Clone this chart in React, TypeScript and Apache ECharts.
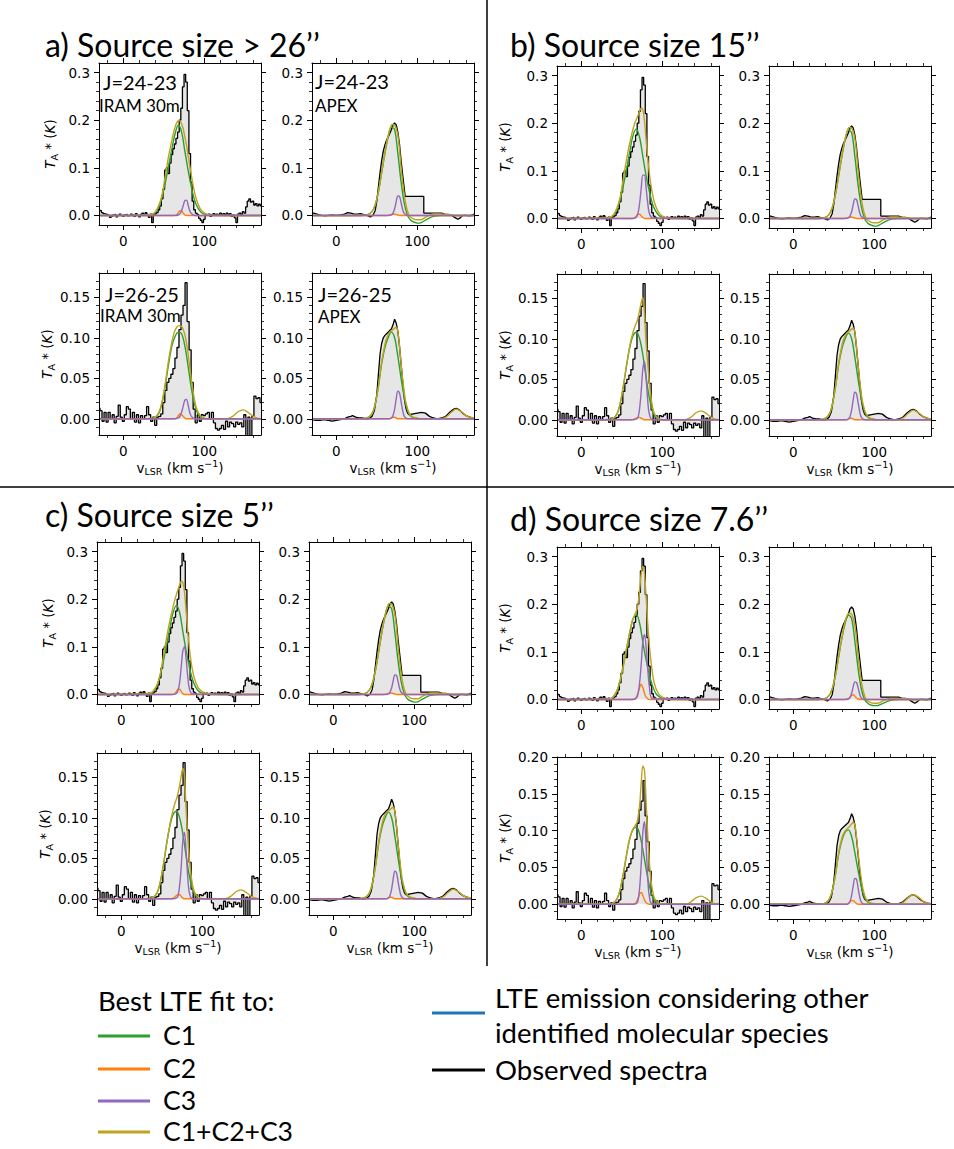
import React, { useEffect, useRef } from 'react';
import * as echarts from 'echarts';

// ---------- axes ----------
const V_MIN = -30;
const V_MAX = 170;
const xMajor = [0, 100];
const xMinor = [-20, 20, 40, 60, 80, 120, 140, 160];

// ---------- model velocity grids (km/s) ----------
const vC1 = [-30, 30, 38, 44, 48, 52, 56, 60, 64, 68, 72, 76, 80, 84, 88, 92, 96, 100, 103, 106, 112, 120, 130, 170];
const vC2 = [-30, 62, 66, 68, 70, 72, 74, 76, 78, 80, 84, 170];
const vC3 = [-30, 64, 68, 70, 72, 74, 76, 78, 80, 82, 84, 88, 170];
const vTot = [-30, 30, 38, 44, 48, 52, 56, 60, 63, 66, 69, 72, 74, 76, 78, 80, 83, 86, 90, 95, 100, 103, 106, 112, 120, 128, 135, 142, 148, 154, 162, 170];

// ---------- observed spectra ----------
// IRAM 30m J=24-23, channels of 2 km/s starting at -30 km/s
const obsIram24 = [0.012, 0.010, 0.006, 0.004, 0.003, 0.002, 0.000, -0.004, -0.002, 0.001,
  0.002, -0.003, 0.000, 0.003, 0.000, -0.002, 0.001, 0.002, -0.001, 0.000,
  0.003, 0.001, -0.002, 0.004, 0.000, -0.003, 0.002, 0.005, 0.001, 0.006,
  0.002, -0.004, 0.003, -0.015, 0.001, 0.004, 0.006, 0.012, 0.020, 0.035,
  0.055, 0.095, 0.100, 0.088, 0.110, 0.128, 0.140, 0.150, 0.162, 0.175,
  0.200, 0.225, 0.270, 0.296, 0.280, 0.220, 0.130, 0.070, 0.030, 0.012,
  0.005, 0.002, -0.006, -0.010, -0.015, -0.008, 0.002, 0.000, 0.003, -0.002,
  0.002, 0.004, 0.001, 0.003, 0.000, 0.005, 0.002, 0.004, 0.001, 0.005,
  0.002, 0.004, -0.002, 0.001, -0.005, -0.015, 0.003, 0.005, 0.002, 0.008,
  0.005, 0.018, 0.030, 0.035, 0.028, 0.030, 0.022, 0.025, 0.020, 0.024, 0.020];
const iram24Start = -30;
const iram24Step = 2;

// IRAM 30m J=26-25, channels of 2.5 km/s starting at -30 km/s
const obsIram26 = [0.013, 0.010, -0.003, 0.008, -0.004, 0.008, 0.000, 0.005, -0.005, 0.003,
  0.017, 0.002, -0.003, 0.005, 0.015, 0.012, 0.000, 0.008, -0.004, 0.005,
  -0.005, 0.004, 0.000, 0.004, 0.015, 0.005, -0.003, 0.002, -0.008, 0.002,
  0.003, 0.006, 0.020, 0.035, 0.045, 0.050, 0.055, 0.062, 0.075, 0.088,
  0.110, 0.128, 0.140, 0.168, 0.120, 0.085, 0.045, 0.012, -0.005, 0.005,
  -0.003, 0.005, 0.004, 0.006, 0.008, 0.000, 0.008, -0.005, -0.012, -0.014,
  -0.012, -0.008, -0.013, -0.003, -0.010, -0.004, -0.006, -0.010, -0.004, -0.007,
  -0.005, -0.010, 0.005, -0.025, 0.002, -0.025, 0.003, 0.028, 0.025, 0.026, 0.020];
const iram26Start = -30;
const iram26Step = 2.5;

// APEX J=24-23
const apex24V = [-30, -26, -22, -18, -14, -10, -5, 0, 5, 10, 14, 18, 22, 26, 30, 34, 38, 42, 45, 48, 50, 52, 54, 56, 58, 60, 62, 64, 66, 68, 70, 72, 74, 76, 78, 80, 82, 84, 85, 108, 108, 130, 134, 138, 142, 146, 150, 153, 156, 160, 165, 170];
const apex24T = [0.006, 0.004, 0.002, 0.000, -0.001, 0.000, 0.001, 0.000, 0.001, 0.003, 0.006, 0.005, 0.003, 0.003, 0.004, 0.002, 0.000, -0.003, 0.000, 0.010, 0.030, 0.060, 0.090, 0.115, 0.135, 0.148, 0.158, 0.165, 0.172, 0.180, 0.190, 0.194, 0.190, 0.175, 0.150, 0.115, 0.085, 0.055, 0.040, 0.040, 0.005, 0.005, 0.003, 0.002, 0.001, -0.004, -0.008, -0.005, 0.000, 0.000, -0.001, 0.003];

// APEX J=26-25
const apex26V = [-30, -25, -20, -15, -10, -5, 0, 5, 10, 14, 18, 20, 24, 28, 32, 36, 40, 44, 47, 50, 52, 54, 56, 58, 60, 63, 66, 68, 70, 72, 74, 76, 78, 80, 82, 84, 86, 88, 90, 95, 100, 105, 110, 115, 120, 125, 130, 135, 140, 145, 148, 152, 156, 160, 165, 170];
const apex26T = [-0.001, -0.002, -0.002, -0.001, -0.002, -0.003, -0.002, -0.001, 0.000, 0.002, 0.003, 0.004, 0.002, 0.001, 0.001, 0.000, 0.000, 0.003, 0.010, 0.030, 0.055, 0.080, 0.093, 0.100, 0.103, 0.106, 0.109, 0.111, 0.116, 0.123, 0.118, 0.108, 0.090, 0.068, 0.045, 0.025, 0.013, 0.007, 0.005, 0.006, 0.007, 0.008, 0.007, 0.003, 0.001, 0.000, 0.001, 0.003, 0.008, 0.012, 0.013, 0.011, 0.007, 0.004, 0.002, 0.000];

// ---------- LTE model components, C1 (on vC1) ----------
const c1I24a = [0, 0, 0.003, 0.018, 0.04, 0.07, 0.105, 0.14, 0.172, 0.19, 0.175, 0.135, 0.095, 0.06, 0.032, 0.016, 0.007, 0.003, 0.002, 0.001, 0, 0, 0, 0];
const c1I24b = [0, 0, 0.003, 0.018, 0.04, 0.07, 0.105, 0.142, 0.175, 0.188, 0.17, 0.13, 0.09, 0.057, 0.03, 0.015, 0.006, 0.003, 0.002, 0.001, 0, 0, 0, 0];
const c1I24c = [0, 0, 0.003, 0.018, 0.04, 0.07, 0.105, 0.14, 0.172, 0.187, 0.172, 0.132, 0.092, 0.058, 0.031, 0.015, 0.006, 0.003, 0.002, 0.001, 0, 0, 0, 0];
const c1I24d = [0, 0, 0.003, 0.018, 0.04, 0.072, 0.108, 0.142, 0.17, 0.178, 0.16, 0.12, 0.083, 0.052, 0.028, 0.013, 0.006, 0.002, 0.001, 0, 0, 0, 0, 0];
const c1I26a = [0, 0, 0.001, 0.007, 0.02, 0.042, 0.068, 0.09, 0.102, 0.107, 0.105, 0.09, 0.065, 0.038, 0.018, 0.006, 0.002, 0, 0, 0, 0, 0, 0, 0];
const c1I26b = [0, 0, 0.001, 0.007, 0.02, 0.042, 0.068, 0.09, 0.104, 0.108, 0.1, 0.08, 0.052, 0.027, 0.011, 0.003, 0.001, 0, 0, 0, 0, 0, 0, 0];
const c1I26c = [0, 0, 0.001, 0.007, 0.02, 0.042, 0.068, 0.09, 0.104, 0.108, 0.1, 0.08, 0.053, 0.028, 0.012, 0.004, 0.001, 0, 0, 0, 0, 0, 0, 0];
const c1I26d = [0, 0, 0.001, 0.007, 0.02, 0.042, 0.068, 0.09, 0.102, 0.105, 0.095, 0.074, 0.048, 0.025, 0.01, 0.003, 0.001, 0, 0, 0, 0, 0, 0, 0];
const c1A24abc = [0, 0, 0.001, 0.008, 0.022, 0.05, 0.09, 0.13, 0.165, 0.186, 0.18, 0.13, 0.07, 0.025, 0.0, -0.01, -0.014, -0.016, -0.016, -0.014, -0.008, -0.002, 0, 0];
const c1A24d = [0, 0, 0.001, 0.008, 0.022, 0.05, 0.09, 0.128, 0.16, 0.177, 0.17, 0.122, 0.065, 0.022, 0.0, -0.008, -0.012, -0.013, -0.013, -0.012, -0.007, -0.002, 0, 0];
const c1A26abc = [0, 0, 0.001, 0.006, 0.018, 0.04, 0.068, 0.088, 0.1, 0.107, 0.1, 0.077, 0.05, 0.026, 0.01, 0.003, 0.001, 0, 0, 0, 0, 0, 0, 0];
const c1A26d = [0, 0, 0.001, 0.006, 0.018, 0.04, 0.068, 0.087, 0.098, 0.101, 0.092, 0.07, 0.046, 0.024, 0.009, 0.003, 0.001, 0, 0, 0, 0, 0, 0, 0];

// ---------- C2 (on vC2) ----------
const c2I24a = [0, 0, 0.002, 0.006, 0.01, 0.009, 0.005, 0.001, 0, 0, 0, 0];
const c2I24b = [0, 0, 0.002, 0.005, 0.009, 0.009, 0.005, 0.002, 0, 0, 0, 0];
const c2I24c = [0, 0, 0.002, 0.006, 0.011, 0.011, 0.006, 0.002, 0, 0, 0, 0];
const c2I24d = [0, 0, 0.001, 0.005, 0.013, 0.025, 0.032, 0.025, 0.013, 0.005, 0, 0];
const c2I26a = [0, 0, 0.001, 0.004, 0.006, 0.005, 0.003, 0.001, 0, 0, 0, 0];
const c2I26b = [0, 0, 0.001, 0.002, 0.003, 0.003, 0.002, 0.001, 0, 0, 0, 0];
const c2I26c = [0, 0, 0.002, 0.004, 0.005, 0.005, 0.003, 0.001, 0, 0, 0, 0];
const c2I26d = [0, 0, 0.001, 0.003, 0.008, 0.014, 0.016, 0.012, 0.006, 0.002, 0, 0];
const c2A24abc = [0, 0, 0.001, 0.002, 0.003, 0.003, 0.002, 0.001, 0, 0, 0, 0];
const c2A24d = [0, 0, 0.001, 0.002, 0.005, 0.009, 0.01, 0.007, 0.003, 0.001, 0, 0];
const c2A26abc = [0, 0, 0, 0.001, 0.002, 0.002, 0.001, 0, 0, 0, 0, 0];
const c2A26d = [0, 0, 0, 0.001, 0.003, 0.005, 0.005, 0.003, 0.001, 0, 0, 0];

// ---------- C3 (on vC3) ----------
const c3I24a = [0, 0, 0.001, 0.004, 0.01, 0.021, 0.031, 0.032, 0.022, 0.01, 0.004, 0, 0];
const c3I24b = [0, 0, 0.003, 0.011, 0.032, 0.064, 0.091, 0.091, 0.064, 0.032, 0.011, 0.001, 0];
const c3I24c = [0, 0, 0.002, 0.008, 0.025, 0.058, 0.092, 0.1, 0.075, 0.038, 0.013, 0.001, 0];
const c3I24d = [0, 0, 0.003, 0.012, 0.035, 0.075, 0.122, 0.136, 0.11, 0.065, 0.028, 0.002, 0];
const c3I26a = [0, 0, 0.001, 0.003, 0.008, 0.016, 0.023, 0.024, 0.017, 0.008, 0.003, 0, 0];
const c3I26b = [0, 0, 0.001, 0.003, 0.014, 0.036, 0.063, 0.072, 0.052, 0.024, 0.007, 0, 0];
const c3I26c = [0, 0, 0.001, 0.004, 0.016, 0.04, 0.072, 0.082, 0.059, 0.027, 0.008, 0, 0];
const c3I26d = [0, 0, 0.001, 0.005, 0.022, 0.055, 0.098, 0.112, 0.08, 0.037, 0.011, 0, 0];
const c3A24abc = [0, 0, 0.001, 0.005, 0.014, 0.029, 0.041, 0.04, 0.027, 0.012, 0.004, 0, 0];
const c3A24d = [0, 0, 0.001, 0.004, 0.013, 0.027, 0.037, 0.036, 0.025, 0.011, 0.003, 0, 0];
const c3A26abc = [0, 0, 0.001, 0.004, 0.012, 0.025, 0.034, 0.032, 0.021, 0.01, 0.003, 0, 0];
const c3A26d = [0, 0, 0.001, 0.004, 0.012, 0.025, 0.035, 0.034, 0.022, 0.01, 0.003, 0, 0];

// ---------- C1+C2+C3 (on vTot) ----------
const totI24a = [0, 0.001, 0.005, 0.022, 0.045, 0.085, 0.125, 0.158, 0.18, 0.195, 0.2, 0.192, 0.182, 0.165, 0.148, 0.125, 0.095, 0.065, 0.035, 0.014, 0.005, 0.003, 0.001, 0, 0, 0, 0, 0, 0, 0, 0, 0];
const totI24b = [0, 0.001, 0.005, 0.022, 0.045, 0.085, 0.125, 0.16, 0.182, 0.2, 0.212, 0.225, 0.232, 0.228, 0.205, 0.165, 0.11, 0.07, 0.035, 0.014, 0.005, 0.003, 0.001, 0, 0, 0, 0, 0, 0, 0, 0, 0];
const totI24c = [0, 0.001, 0.005, 0.02, 0.042, 0.08, 0.12, 0.155, 0.178, 0.198, 0.215, 0.23, 0.237, 0.235, 0.215, 0.175, 0.115, 0.07, 0.035, 0.014, 0.006, 0.004, 0.002, 0.001, 0, 0, 0, 0, 0, 0, 0, 0];
const totI24d = [0, 0.001, 0.003, 0.018, 0.04, 0.072, 0.108, 0.142, 0.165, 0.178, 0.19, 0.23, 0.265, 0.279, 0.265, 0.215, 0.135, 0.08, 0.035, 0.013, 0.005, 0.003, 0.001, 0, 0, 0, 0, 0, 0, 0, 0, 0];
const totI26a = [0, 0, 0.001, 0.008, 0.022, 0.045, 0.073, 0.095, 0.107, 0.113, 0.115, 0.114, 0.11, 0.104, 0.094, 0.08, 0.056, 0.035, 0.014, 0.004, 0.001, 0, 0, 0, 0, 0, 0.003, 0.009, 0.011, 0.008, 0.002, 0];
const totI26b = [0, 0, 0.001, 0.007, 0.02, 0.042, 0.068, 0.092, 0.105, 0.115, 0.122, 0.135, 0.145, 0.151, 0.13, 0.095, 0.058, 0.028, 0.008, 0.002, 0, 0, 0, 0, 0, 0, 0.003, 0.009, 0.011, 0.008, 0.002, 0];
const totI26c = [0, 0, 0.001, 0.007, 0.02, 0.042, 0.068, 0.092, 0.106, 0.117, 0.126, 0.14, 0.152, 0.161, 0.152, 0.11, 0.062, 0.03, 0.009, 0.002, 0, 0, 0, 0, 0, 0, 0.003, 0.009, 0.011, 0.008, 0.002, 0];
const totI26d = [0, 0, 0.001, 0.007, 0.02, 0.042, 0.068, 0.09, 0.1, 0.106, 0.112, 0.135, 0.165, 0.188, 0.182, 0.14, 0.075, 0.033, 0.009, 0.002, 0, 0, 0, 0, 0, 0, 0.003, 0.009, 0.011, 0.008, 0.002, 0];
const totA24abc = [0, 0, 0.001, 0.008, 0.022, 0.05, 0.09, 0.132, 0.16, 0.18, 0.191, 0.19, 0.182, 0.168, 0.14, 0.1, 0.055, 0.022, 0, -0.007, -0.009, -0.009, -0.008, -0.002, 0.003, 0.003, 0.002, 0.001, 0, 0, 0, 0];
const totA24d = [0, 0, 0.001, 0.008, 0.022, 0.05, 0.09, 0.13, 0.157, 0.175, 0.181, 0.179, 0.17, 0.155, 0.128, 0.092, 0.05, 0.02, 0, -0.006, -0.008, -0.008, -0.007, -0.002, 0.002, 0.002, 0.002, 0.001, 0, 0, 0, 0];
const totA26abc = [0, 0, 0.001, 0.006, 0.018, 0.04, 0.07, 0.092, 0.102, 0.107, 0.109, 0.112, 0.113, 0.108, 0.09, 0.068, 0.04, 0.02, 0.007, 0.002, 0.001, 0, 0, 0, 0, 0, 0.002, 0.008, 0.012, 0.009, 0.003, 0.001];
const totA26d = [0, 0, 0.001, 0.006, 0.018, 0.04, 0.07, 0.09, 0.098, 0.102, 0.105, 0.109, 0.111, 0.108, 0.092, 0.07, 0.042, 0.021, 0.007, 0.002, 0.001, 0, 0, 0, 0, 0, 0.002, 0.009, 0.013, 0.01, 0.003, 0.001];

// ---------- texts ----------
const quadTitles = ['a) Source size > 26’’', 'b) Source size 15’’', 'c) Source size 5’’', 'd) Source size 7.6’’'];
const legendLeft = ['C1', 'C2', 'C3', 'C1+C2+C3'];

const COLORS = {
  c1: '#2ca02c',
  c2: '#ff7f0e',
  c3: '#9467bd',
  tot: '#bfa31c',
  blue: '#1f77b4',
  obs: '#000000',
  fill: '#e6e6e6',
};

const PW = 162;
const PH = 162;

type Model = { c1: number[]; c2: number[]; c3: number[]; tot: number[] };

const quadrants = [
  { cols: [99, 312], rows: [63, 273], yGap: 40, title: [45, 44],
    I24: { c1: c1I24a, c2: c2I24a, c3: c3I24a, tot: totI24a }, I26: { c1: c1I26a, c2: c2I26a, c3: c3I26a, tot: totI26a },
    A24: { c1: c1A24abc, c2: c2A24abc, c3: c3A24abc, tot: totA24abc }, A26: { c1: c1A26abc, c2: c2A26abc, c3: c3A26abc, tot: totA26abc }, row2Max: 0.18 },
  { cols: [557, 769], rows: [66, 274], yGap: 43, title: [510, 44],
    I24: { c1: c1I24b, c2: c2I24b, c3: c3I24b, tot: totI24b }, I26: { c1: c1I26b, c2: c2I26b, c3: c3I26b, tot: totI26b },
    A24: { c1: c1A24abc, c2: c2A24abc, c3: c3A24abc, tot: totA24abc }, A26: { c1: c1A26abc, c2: c2A26abc, c3: c3A26abc, tot: totA26abc }, row2Max: 0.18 },
  { cols: [97, 309], rows: [542, 753], yGap: 40, title: [45, 514],
    I24: { c1: c1I24c, c2: c2I24c, c3: c3I24c, tot: totI24c }, I26: { c1: c1I26c, c2: c2I26c, c3: c3I26c, tot: totI26c },
    A24: { c1: c1A24abc, c2: c2A24abc, c3: c3A24abc, tot: totA24abc }, A26: { c1: c1A26abc, c2: c2A26abc, c3: c3A26abc, tot: totA26abc }, row2Max: 0.18 },
  { cols: [557, 769], rows: [547, 757], yGap: 43, title: [510, 518],
    I24: { c1: c1I24d, c2: c2I24d, c3: c3I24d, tot: totI24d }, I26: { c1: c1I26d, c2: c2I26d, c3: c3I26d, tot: totI26d },
    A24: { c1: c1A24d, c2: c2A24d, c3: c3A24d, tot: totA24d }, A26: { c1: c1A26d, c2: c2A26d, c3: c3A26d, tot: totA26d }, row2Max: 0.2 },
];

const zip = (xs: number[], ys: number[]) => xs.map((x, i) => [x, ys[i]]);
const channels = (vals: number[], start: number, step: number) => vals.map((y, i) => [start + step * i, y]);

const yTicks = (max: number) => {
  if (max > 0.25) {
    return { min: -0.02, max, major: [0, 0.1, 0.2, 0.3], minor: [0.02, 0.04, 0.06, 0.08, 0.12, 0.14, 0.16, 0.18, 0.22, 0.24, 0.26, 0.28], dec: 1 };
  }
  const major = max > 0.19 ? [0, 0.05, 0.1, 0.15, 0.2] : [0, 0.05, 0.1, 0.15];
  const minor: number[] = [-0.01];
  for (let k = 1; k < Math.round(max * 100); k++) if (k % 5 !== 0) minor.push(k / 100);
  return { min: -0.02, max, major, minor, dec: 2 };
};

const FONT_AX = 'DejaVu Sans';
const FONT_TXT = 'Lato';

function buildOption() {
  const grid: any[] = [];
  const xAxis: any[] = [];
  const yAxis: any[] = [];
  const series: any[] = [];
  const graphic: any[] = [];
  let p = 0;

  const yNameRich = {
    t: { fontSize: 13.5, fontStyle: 'italic', fontFamily: FONT_AX, lineHeight: 18, color: '#000' },
    s: { fontSize: 9.5, fontFamily: FONT_AX, lineHeight: 8, verticalAlign: 'bottom', color: '#000' },
    n: { fontSize: 13.5, fontFamily: FONT_AX, lineHeight: 18, color: '#000' },
    k: { fontSize: 13.5, fontStyle: 'italic', fontFamily: FONT_AX, lineHeight: 18, color: '#000' },
  };
  const xNameRich = {
    n: { fontSize: 13.5, fontFamily: FONT_AX, lineHeight: 18, color: '#000' },
    s: { fontSize: 9.5, fontFamily: FONT_AX, lineHeight: 8, verticalAlign: 'bottom', color: '#000' },
    p: { fontSize: 9.5, fontFamily: FONT_AX, lineHeight: 8, verticalAlign: 'top', color: '#000' },
  };

  quadrants.forEach((q, qi) => {
    const panels = [
      { key: 'I24', col: 0, row: 0, obs: channels(obsIram24, iram24Start, iram24Step), step: true, ymax: 0.32 },
      { key: 'A24', col: 1, row: 0, obs: zip(apex24V, apex24T), step: false, ymax: 0.32 },
      { key: 'I26', col: 0, row: 1, obs: channels(obsIram26, iram26Start, iram26Step), step: true, ymax: q.row2Max },
      { key: 'A26', col: 1, row: 1, obs: zip(apex26V, apex26T), step: false, ymax: q.row2Max },
    ];
    panels.forEach((pl) => {
      const left = q.cols[pl.col];
      const top = q.rows[pl.row];
      grid.push({ left, top, width: PW, height: PH, containLabel: false });
      const yt = yTicks(pl.ymax);
      const lineCfg = { show: true, onZero: false, lineStyle: { color: '#000', width: 1 } };
      const noLine = { show: false, onZero: false };
      const majTick = { show: true, inside: false, length: 5, lineStyle: { color: '#000', width: 1 } };
      const minTick = { show: true, inside: false, length: 3, lineStyle: { color: '#000', width: 0.8 } };
      const base = { gridIndex: p, type: 'value', splitLine: { show: false }, z: 5, silent: true };
      const xb = { ...base, min: V_MIN, max: V_MAX };
      const yb = { ...base, min: yt.min, max: yt.max };
      const isLeft = pl.col === 0;
      const isBottom = pl.row === 1;
      xAxis.push({
        ...xb, position: 'bottom', axisLine: lineCfg,
        axisTick: { ...majTick, customValues: xMajor },
        axisLabel: { show: true, customValues: xMajor, margin: 9, fontSize: 13.5, color: '#000', fontFamily: FONT_AX },
        name: isBottom ? '{n|v}{s|LSR}{n| (km s}{p|−1}{n|)}' : '',
        nameLocation: 'middle', nameGap: 22,
        nameTextStyle: { rich: xNameRich, fontSize: 13.5, fontFamily: FONT_AX, color: '#000' },
      });
      xAxis.push({ ...xb, position: 'bottom', axisLine: noLine, axisTick: { ...minTick, customValues: xMinor }, axisLabel: { show: false } });
      xAxis.push({ ...xb, position: 'top', axisLine: lineCfg, axisTick: { ...majTick, customValues: xMajor }, axisLabel: { show: false } });
      xAxis.push({ ...xb, position: 'top', axisLine: noLine, axisTick: { ...minTick, customValues: xMinor }, axisLabel: { show: false } });

      yAxis.push({
        ...yb, position: 'left', axisLine: lineCfg,
        axisTick: { ...majTick, customValues: yt.major },
        axisLabel: { show: true, customValues: yt.major, margin: 9, fontSize: 13.5, color: '#000', fontFamily: FONT_AX,
          formatter: (v: number) => v.toFixed(yt.dec) },
        name: isLeft ? '{t|T}{s|A}{n| * (}{k|K}{n|)}' : '',
        nameLocation: 'middle', nameGap: q.yGap, nameRotate: 90,
        nameTextStyle: { rich: yNameRich, fontSize: 13.5, fontFamily: FONT_AX, color: '#000' },
      });
      yAxis.push({ ...yb, position: 'left', axisLine: noLine, axisTick: { ...minTick, customValues: yt.minor }, axisLabel: { show: false } });
      yAxis.push({ ...yb, position: 'right', axisLine: lineCfg, axisTick: { ...majTick, customValues: yt.major }, axisLabel: { show: false } });
      yAxis.push({ ...yb, position: 'right', axisLine: noLine, axisTick: { ...minTick, customValues: yt.minor }, axisLabel: { show: false } });

      const xi = p * 4;
      const yi = p * 4;
      const m: Model = (q as any)[pl.key];
      series.push({
        type: 'line', xAxisIndex: xi, yAxisIndex: yi, data: pl.obs, step: pl.step ? 'middle' : false,
        symbol: 'none', silent: true, z: 1,
        lineStyle: { color: COLORS.obs, width: 1.3 },
        areaStyle: { color: COLORS.fill, opacity: 1 },
      });
      const model = (data: number[][], color: string, z: number) => ({
        type: 'line', xAxisIndex: xi, yAxisIndex: yi, data, smooth: 0.35, symbol: 'none', silent: true, z,
        lineStyle: { color, width: 1.4 },
      });
      series.push(model(zip(vC1, m.c1), COLORS.c1, 2));
      series.push(model(zip(vC2, m.c2), COLORS.c2, 2));
      series.push(model(zip(vTot, m.tot), COLORS.tot, 3));
      series.push(model(zip(vC3, m.c3), COLORS.c3, 3));
      p++;
    });

    graphic.push({
      type: 'text', x: q.title[0], y: q.title[1],
      style: { text: quadTitles[qi], fontSize: 32, fontFamily: FONT_TXT, fill: '#000', verticalAlign: 'middle', align: 'left' },
    });
  });

  // labels inside panels of quadrant a
  const inner = [
    { t: 'J=24-23', x: 103, y: 82, s: 20 }, { t: 'IRAM 30m', x: 99, y: 105, s: 17 },
    { t: 'J=24-23', x: 315, y: 81, s: 20 }, { t: 'APEX', x: 315, y: 105, s: 17 },
    { t: 'J=26-25', x: 105, y: 294, s: 20 }, { t: 'IRAM 30m', x: 100, y: 315, s: 17 },
    { t: 'J=26-25', x: 318, y: 294, s: 20 }, { t: 'APEX', x: 318, y: 316, s: 17 },
  ];
  inner.forEach((it) => graphic.push({
    type: 'text', x: it.x, y: it.y, z: 20,
    style: { text: it.t, fontSize: it.s, fontFamily: FONT_TXT, fill: '#000', verticalAlign: 'middle', align: 'left' },
  }));

  // dividers
  graphic.push({ type: 'line', shape: { x1: 487, y1: 0, x2: 487, y2: 966 }, style: { stroke: '#000', lineWidth: 1.5 } });
  graphic.push({ type: 'line', shape: { x1: 0, y1: 487, x2: 954, y2: 487 }, style: { stroke: '#000', lineWidth: 1.5 } });

  // legend
  const LF = 26.5;
  graphic.push({ type: 'text', x: 98, y: 1000, style: { text: 'Best LTE fit to:', fontSize: 27.5, fontFamily: FONT_TXT, fill: '#000', verticalAlign: 'middle' } });
  const legCols = [COLORS.c1, COLORS.c2, COLORS.c3, COLORS.tot];
  const legY = [1035, 1068, 1100, 1131];
  legendLeft.forEach((lbl, i) => {
    graphic.push({ type: 'line', shape: { x1: 98, y1: legY[i] + 1, x2: 150, y2: legY[i] + 1 }, style: { stroke: legCols[i], lineWidth: 3 } });
    graphic.push({ type: 'text', x: 163, y: legY[i], style: { text: lbl, fontSize: LF, fontFamily: FONT_TXT, fill: '#000', verticalAlign: 'middle' } });
  });
  graphic.push({ type: 'line', shape: { x1: 432, y1: 1013, x2: 485, y2: 1013 }, style: { stroke: COLORS.blue, lineWidth: 3 } });
  graphic.push({ type: 'text', x: 495, y: 997, style: { text: 'LTE emission considering other', fontSize: 27.5, fontFamily: FONT_TXT, fill: '#000', verticalAlign: 'middle' } });
  graphic.push({ type: 'text', x: 495, y: 1032, style: { text: 'identified molecular species', fontSize: 27.5, fontFamily: FONT_TXT, fill: '#000', verticalAlign: 'middle' } });
  graphic.push({ type: 'line', shape: { x1: 432, y1: 1070, x2: 485, y2: 1070 }, style: { stroke: '#000', lineWidth: 3 } });
  graphic.push({ type: 'text', x: 495, y: 1069, style: { text: 'Observed spectra', fontSize: 27.5, fontFamily: FONT_TXT, fill: '#000', verticalAlign: 'middle' } });

  return {
    animation: false,
    backgroundColor: '#ffffff',
    textStyle: { fontFamily: FONT_AX },
    grid, xAxis, yAxis, series, graphic,
  };
}

export default function App() {
  const ref = useRef<HTMLDivElement>(null);
  useEffect(() => {
    document.body.style.margin = '0';
    if (!ref.current) return;
    const chart = echarts.init(ref.current, null, { renderer: 'svg' });
    chart.setOption(buildOption() as any);
    return () => chart.dispose();
  }, []);
  return <div ref={ref} style={{ width: 954, height: 1149 }} />;
}
